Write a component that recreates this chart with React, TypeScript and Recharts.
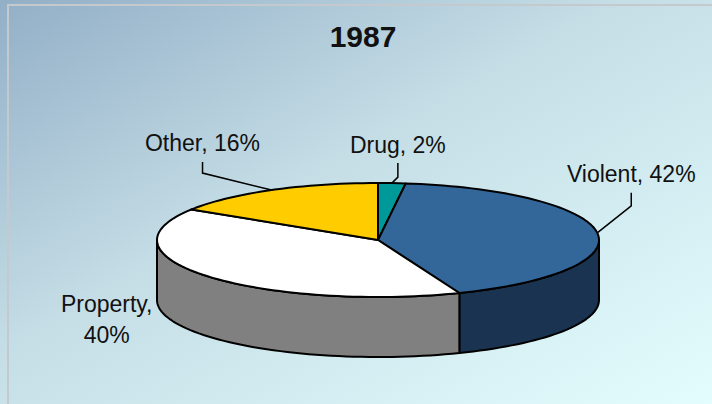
import React from 'react';
import { PieChart, Pie, Cell } from 'recharts';

// 1987 share of offences
const categories = ['Drug', 'Violent', 'Property', 'Other'];
const shares = [2, 42, 40, 16];
const chartTitle = '1987';

const topColors = ['#009999', '#336699', '#ffffff', '#ffcc00'];
const sideColors = ['#006b6b', '#1a3350', '#808080', '#b38f00'];

const TILT = 57 / 221; // vertical squash of the pie
const DEPTH = 60; // thickness of the disc
const RAD = Math.PI / 180;
const FONT = '"Liberation Sans", Arial, sans-serif';

// label placement relative to the slice's edge point: [elbow, top of leader, text]
const labelLayout: Record<string, { line: boolean; elbow: number[]; top: number[]; text: number[] }> = {
  Drug: { line: true, elbow: [6, -6], top: [6, -20], text: [6, -30] },
  Violent: { line: true, elbow: [34, -27], top: [34, -40], text: [34, -51] },
  Property: { line: false, elbow: [0, 0], top: [0, 0], text: [-101, 36] },
  Other: { line: true, elbow: [-69, -17], top: [-69, -28], text: [-69, -39] },
};

const data = categories.map((name, i) => ({ name, value: shares[i] }));

const project = (cx: number, cy: number, r: number, deg: number, dy = 0) => ({
  x: cx + r * Math.cos(-deg * RAD),
  y: cy + TILT * r * Math.sin(-deg * RAD) + dy,
});

const arc = (cx: number, cy: number, r: number, a: number, b: number, dy = 0) => {
  const steps = Math.max(2, Math.ceil(Math.abs(b - a) / 2));
  const pts: string[] = [];
  for (let i = 0; i <= steps; i++) {
    const p = project(cx, cy, r, a + ((b - a) * i) / steps, dy);
    pts.push(`${p.x.toFixed(2)},${p.y.toFixed(2)}`);
  }
  return pts;
};

const Slice3D = (props: any) => {
  const { cx, cy, outerRadius, startAngle, endAngle, name } = props;
  const idx = categories.indexOf(name);
  const fill = topColors[idx];
  const side = sideColors[idx];

  // front-facing part of the rim (angles between -180 and 0)
  const lo = Math.min(startAngle, endAngle);
  const hi = Math.max(startAngle, endAngle);
  const walls: string[] = [];
  for (const k of [-360, 0, 360]) {
    const a = Math.max(lo, -180 + k);
    const b = Math.min(hi, k);
    if (b - a > 0.01) {
      const topPts = arc(cx, cy, outerRadius, a, b);
      const botPts = arc(cx, cy, outerRadius, b, a, DEPTH);
      walls.push(`M${topPts.join(' L')} L${botPts.join(' L')} Z`);
    }
  }

  const face = `M${cx},${cy} L${arc(cx, cy, outerRadius, startAngle, endAngle).join(' L')} Z`;

  return (
    <g>
      {walls.map((d, i) => (
        <path key={i} d={d} fill={side} stroke="#000" strokeWidth={2} strokeLinejoin="round" />
      ))}
      <path d={face} fill={fill} stroke="#000" strokeWidth={2} strokeLinejoin="round" />
    </g>
  );
};

const renderLabel = (props: any) => {
  const { cx, cy, outerRadius, midAngle, name, value } = props;
  const layout = labelLayout[name];
  const p = project(cx, cy, outerRadius, midAngle);
  const tx = p.x + layout.text[0];
  const ty = p.y + layout.text[1];
  const textStyle = { fontFamily: FONT, fontSize: 23, fill: '#111' };
  return (
    <g key={`lbl-${name}`}>
      {layout.line && (
        <polyline
          points={`${p.x},${p.y} ${p.x + layout.elbow[0]},${p.y + layout.elbow[1]} ${p.x + layout.top[0]},${p.y + layout.top[1]}`}
          fill="none"
          stroke="#000"
          strokeWidth={1.5}
        />
      )}
      {name === 'Property' ? (
        <text x={tx} y={ty} textAnchor="middle" style={textStyle}>
          <tspan x={tx}>{`${name},`}</tspan>
          <tspan x={tx} dy={31}>{`${value}%`}</tspan>
        </text>
      ) : (
        <text x={tx} y={ty} textAnchor="middle" style={textStyle}>
          {`${name}, ${value}%`}
        </text>
      )}
    </g>
  );
};

export default function App() {
  return (
    <div
      style={{
        position: 'absolute',
        left: 0,
        top: 0,
        width: 712,
        height: 404,
        overflow: 'hidden',
        background: 'linear-gradient(to bottom right, #93afc7 0%, #c6dfe7 45%, #e3fdfe 100%)',
      }}
    >
      <div
        style={{
          position: 'absolute',
          left: 7,
          top: 4,
          width: 800,
          height: 500,
          border: '2px solid #c4c9ce',
        }}
      />
      <svg width={712} height={60} style={{ position: 'absolute', left: 0, top: 0 }}>
        <text x={363} y={47} textAnchor="middle" style={{ fontFamily: FONT, fontSize: 30, fontWeight: 700, fill: '#111' }}>
          {chartTitle}
        </text>
      </svg>
      <div style={{ position: 'absolute', left: 0, top: 0 }}>
        <PieChart width={712} height={404} margin={{ top: 0, right: 0, bottom: 0, left: 0 }}>
          <Pie
            data={data}
            dataKey="value"
            nameKey="name"
            cx={378}
            cy={240}
            outerRadius={221}
            startAngle={90}
            endAngle={-270}
            shape={Slice3D}
            activeShape={Slice3D}
            inactiveShape={Slice3D}
            label={renderLabel}
            labelLine={false}
            isAnimationActive={false}
          >
            {data.map((d, i) => (
              <Cell key={d.name} fill={topColors[i]} />
            ))}
          </Pie>
        </PieChart>
      </div>
    </div>
  );
}
